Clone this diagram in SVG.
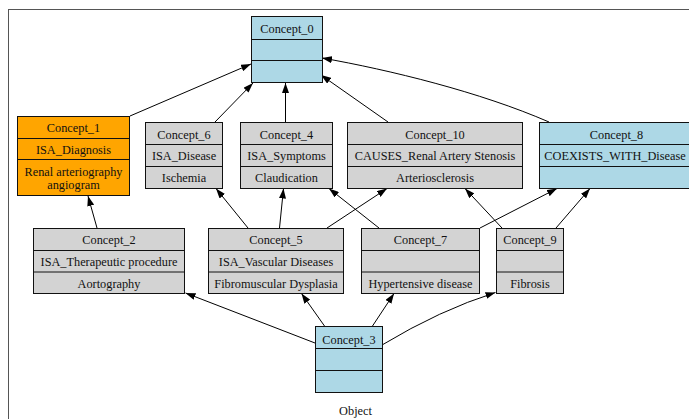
<svg xmlns="http://www.w3.org/2000/svg" width="689" height="419" viewBox="0 0 689 419">
<style>
.frame{fill:#fff;stroke:#555;stroke-width:1}
.box{stroke:#111;stroke-width:1}
.blue{fill:#add8e6}
.orange{fill:#ffa500}
.grey{fill:#d3d3d3}
.div{stroke:#111;stroke-width:1;fill:none}
text{font-family:"Liberation Serif","Times New Roman",serif;font-size:12.3px;fill:#111;text-anchor:middle}
.edge{stroke:#000;stroke-width:1;fill:none;marker-end:url(#arr)}
</style>
<defs>
<marker id="arr" viewBox="0 0 10 7" refX="10" refY="3.5" markerUnits="userSpaceOnUse" markerWidth="10" markerHeight="7" orient="auto">
<path d="M0,0 L10,3.5 L0,7 z" fill="#000"/>
</marker>
</defs>
<rect width="689" height="419" fill="#fff"/>
<rect class="frame" x="8.5" y="9.5" width="700" height="420"/>
<text x="355.5" y="415">Object</text>

<g id="connectors">
<line class="edge" x1="130" y1="116" x2="251" y2="64"/>
<line class="edge" x1="215" y1="122" x2="253" y2="83"/>
<line class="edge" x1="285.5" y1="122" x2="285.5" y2="83"/>
<line class="edge" x1="388" y1="122" x2="321" y2="75"/>
<path class="edge" d="M549,122 C480,92 390,70 322,58"/>
<line class="edge" x1="97" y1="228" x2="88" y2="196"/>
<line class="edge" x1="248" y1="228" x2="216" y2="188.5"/>
<line class="edge" x1="279.5" y1="228" x2="283.5" y2="188.5"/>
<line class="edge" x1="327" y1="228" x2="387" y2="188.5"/>
<line class="edge" x1="379" y1="228" x2="329" y2="188.5"/>
<line class="edge" x1="502" y1="228" x2="465" y2="188.5"/>
<line class="edge" x1="480" y1="228" x2="557" y2="188.5"/>
<line class="edge" x1="556" y1="228" x2="590" y2="188.5"/>
<line class="edge" x1="315" y1="343" x2="185.5" y2="293"/>
<line class="edge" x1="324.5" y1="326" x2="301.5" y2="293.5"/>
<line class="edge" x1="372.5" y1="326" x2="394" y2="293.5"/>
<path class="edge" d="M382,345 Q440,310 495.5,292.5"/>
</g>

<g id="Concept_0">
<rect class="box blue" x="251.5" y="16.5" width="71" height="66"/>
<path class="div" d="M251.5,39.5 H322.5 M251.5,60.5 H322.5"/>
<text x="287" y="33">Concept_0</text>
</g>

<g id="Concept_1">
<rect class="box orange" x="17.5" y="116.5" width="112" height="79"/>
<path class="div" d="M17.5,138.5 H129.5 M17.5,159.5 H129.5"/>
<text x="73.5" y="131.5">Concept_1</text>
<text x="73.5" y="153.5">ISA_Diagnosis</text>
<text x="73.5" y="175.5">Renal arteriography</text>
<text x="73.5" y="189">angiogram</text>
</g>

<g id="Concept_6">
<rect class="box grey" x="145.5" y="122.5" width="77" height="66"/>
<path class="div" d="M145.5,144.5 H222.5 M145.5,166.5 H222.5"/>
<text x="184" y="138.5">Concept_6</text>
<text x="184" y="160">ISA_Disease</text>
<text x="184" y="182">Ischemia</text>
</g>

<g id="Concept_4">
<rect class="box grey" x="240.5" y="122.5" width="92" height="66"/>
<path class="div" d="M240.5,144.5 H332.5 M240.5,166.5 H332.5"/>
<text x="286.5" y="138.5">Concept_4</text>
<text x="286.5" y="160">ISA_Symptoms</text>
<text x="286.5" y="182">Claudication</text>
</g>

<g id="Concept_10">
<rect class="box grey" x="347.5" y="122.5" width="175" height="66"/>
<path class="div" d="M347.5,144.5 H522.5 M347.5,166.5 H522.5"/>
<text x="435" y="138.5">Concept_10</text>
<text x="435" y="160">CAUSES_Renal Artery Stenosis</text>
<text x="435" y="182">Arteriosclerosis</text>
</g>

<g id="Concept_8">
<rect class="box blue" x="539.5" y="122.5" width="154" height="66"/>
<path class="div" d="M539.5,144.5 H693.5 M539.5,166.5 H693.5"/>
<text x="616.5" y="138.5">Concept_8</text>
<text x="615" y="160">COEXISTS_WITH_Disease</text>
</g>

<g id="Concept_2">
<rect class="box grey" x="33.5" y="228.5" width="151" height="65"/>
<path class="div" d="M33.5,250.5 H184.5 M33.5,272 H184.5"/>
<text x="109" y="244">Concept_2</text>
<text x="109" y="266">ISA_Therapeutic procedure</text>
<text x="109" y="288">Aortography</text>
</g>

<g id="Concept_5">
<rect class="box grey" x="208.5" y="228.5" width="135" height="65"/>
<path class="div" d="M208.5,250.5 H343.5 M208.5,272 H343.5"/>
<text x="276" y="244">Concept_5</text>
<text x="276" y="266">ISA_Vascular Diseases</text>
<text x="276" y="288">Fibromuscular Dysplasia</text>
</g>

<g id="Concept_7">
<rect class="box grey" x="361.5" y="228.5" width="118" height="65"/>
<path class="div" d="M361.5,250.5 H479.5 M361.5,272 H479.5"/>
<text x="420.5" y="244">Concept_7</text>
<text x="420.5" y="288">Hypertensive disease</text>
</g>

<g id="Concept_9">
<rect class="box grey" x="496.5" y="228.5" width="67" height="65"/>
<path class="div" d="M496.5,250.5 H563.5 M496.5,272 H563.5"/>
<text x="530" y="244">Concept_9</text>
<text x="530" y="288">Fibrosis</text>
</g>

<g id="Concept_3">
<rect class="box blue" x="315.5" y="326.5" width="67" height="66"/>
<path class="div" d="M315.5,348.5 H382.5 M315.5,370.5 H382.5"/>
<text x="349" y="343.5">Concept_3</text>
</g>
</svg>
